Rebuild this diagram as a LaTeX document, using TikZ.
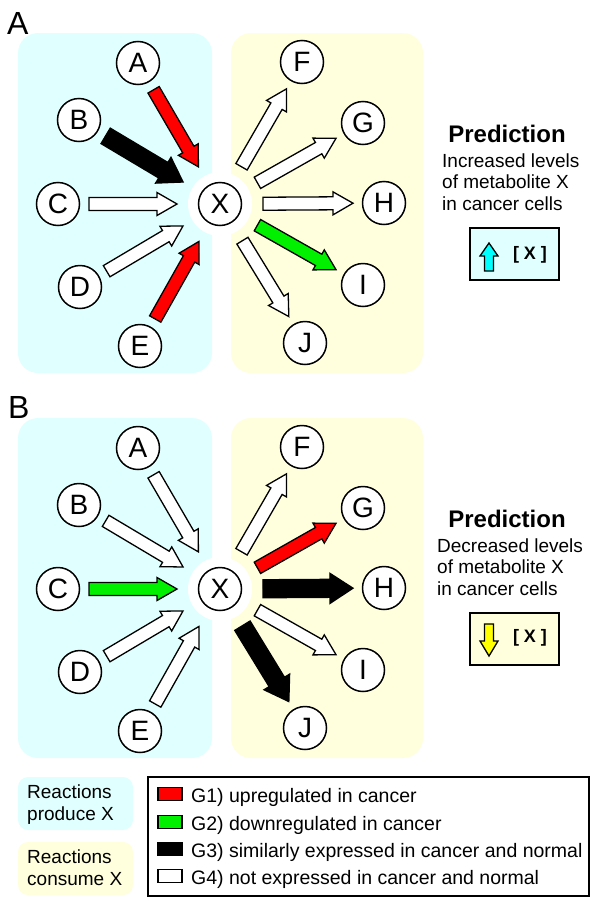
\documentclass[tikz,border=0pt]{standalone}
\usepackage{fontspec}
\setmainfont{Liberation Sans}
\usetikzlibrary{calc}
\definecolor{lcyan}{RGB}{224,255,255}
\definecolor{lyel}{RGB}{255,255,221}
\definecolor{ared}{RGB}{255,0,0}
\definecolor{agreen}{RGB}{0,240,0}
\definecolor{ucyan}{RGB}{0,255,255}
\definecolor{uyel}{RGB}{255,255,0}
% #1 fill, #2 src, #3 dst, #4 start dist, #5 end dist, #6 half shaft, #7 half head, #8 head length
\newcommand\fatarr[8]{%
  \coordinate (fs) at ($(#2)!#4!(#3)$);
  \coordinate (ft) at ($(#3)!#5!(#2)$);
  \coordinate (fh) at ($(ft)!#8!(fs)$);
  \draw[fatline, fill=#1] ($(fs)!#6!90:(ft)$) -- ($(fh)!#6!-90:(fs)$) -- ($(fh)!#7!-90:(fs)$) -- (ft)
     -- ($(fh)!#7!90:(fs)$) -- ($(fh)!#6!90:(fs)$) -- ($(fs)!#6!-90:(ft)$) -- cycle;
}
\newcommand\inarr[3]{\fatarr{#1}{#2}{#3}{31pt}{43pt}{6.5pt}{11.5pt}{20pt}}
\newcommand\outarr[3]{\fatarr{#1}{#2}{#3}{43pt}{31pt}{6.5pt}{11.5pt}{20pt}}
\newcommand\inarrthick[3]{\fatarr{#1}{#2}{#3}{31pt}{43pt}{9pt}{15pt}{23pt}}
\newcommand\outarrthick[3]{\fatarr{#1}{#2}{#3}{43pt}{31pt}{9pt}{15pt}{23pt}}
\begin{document}
\begin{tikzpicture}[x=1pt,y=-1pt,
  circ/.style={circle, draw, line width=1.5pt, fill=white, minimum size=43pt, inner sep=0pt, font=\fontsize{28}{28}\selectfont},
  halo/.style={circle, fill=white, minimum size=64pt, inner sep=0pt},
  fatline/.style={draw, line width=1.3pt, line join=miter},
  prodbox/.style={fill=lcyan, rounded corners=20pt},
  consbox/.style={fill=lyel, rounded corners=20pt},
  panellab/.style={anchor=base west, inner sep=0pt, font=\fontsize{32}{32}\selectfont},
  predtitle/.style={anchor=base, inner sep=0pt, font=\fontsize{24}{24}\selectfont\bfseries},
  bodytxt/.style={anchor=base west, inner sep=0pt, font=\fontsize{19}{19}\selectfont},
  legtxt/.style={anchor=base west, inner sep=0pt, font=\fontsize{19.5}{19.5}\selectfont},
  conc/.style={inner sep=0pt, font=\fontsize{18}{18}\selectfont\bfseries},
  indbox/.style={draw, line width=1.4pt},
  swatch/.style={draw, line width=1.2pt}
]
\useasboundingbox (0,0) rectangle (600,913);

% panel boxes
\fill[prodbox] (18,33) rectangle (212,373);
\fill[consbox] (231,33) rectangle (423,373);
\fill[prodbox] (18,418) rectangle (212,758);
\fill[consbox] (231,418) rectangle (423,758);

\node[panellab] (labA) at (7,34) {A};
\node[panellab] (labB) at (8,418) {B};

% halos and X nodes
\node[halo] (hX1) at (220,204) {};
\node[halo] (hX2) at (220,589) {};
\node[circ] (X1) at (220,204) {X};
\node[circ] (X2) at (220,589) {X};

\foreach \nm/\px/\py in {A/138/63, B/79/120, C/58/204, D/80/287, E/140/346,
                         F/302/62, G/363/123, H/384/203, I/363/285, J/305/343} {
  \node[circ] (\nm1) at (\px,\py) {\nm};
  \node[circ] (\nm2) at (\px,\py+385) {\nm};
}

% panel A arrows
\inarr{ared}{A1}{X1}
\inarrthick{black}{B1}{X1}
\inarr{white}{C1}{X1}
\inarr{white}{D1}{X1}
\inarr{ared}{E1}{X1}
\outarr{white}{X1}{F1}
\outarr{white}{X1}{G1}
\outarr{white}{X1}{H1}
\outarr{agreen}{X1}{I1}
\outarr{white}{X1}{J1}

% panel B arrows
\inarr{white}{A2}{X2}
\inarr{white}{B2}{X2}
\inarr{agreen}{C2}{X2}
\inarr{white}{D2}{X2}
\inarr{white}{E2}{X2}
\outarr{white}{X2}{F2}
\outarr{ared}{X2}{G2}
\outarrthick{black}{X2}{H2}
\outarr{white}{X2}{I2}
\outarrthick{black}{X2}{J2}

% predictions
\node[predtitle] (predA) at (507,142) {Prediction};
\node[bodytxt] (pa1) at (442,167) {Increased levels};
\node[bodytxt] (pa2) at (442,188) {of metabolite X};
\node[bodytxt] (pa3) at (442,210) {in cancer cells};
\draw[indbox, fill=lcyan] (470,228) rectangle (559,280);
\draw[fatline, fill=ucyan] (489,243) -- (498,256) -- (493.5,256) -- (493.5,271) -- (484.5,271) -- (484.5,256) -- (480,256) -- cycle;
\node[conc] (cA) at (530,255) {[ X ]};

\node[predtitle] (predB) at (507,527) {Prediction};
\node[bodytxt] (pb1) at (437,552) {Decreased levels};
\node[bodytxt] (pb2) at (437,573) {of metabolite X};
\node[bodytxt] (pb3) at (437,595) {in cancer cells};
\draw[indbox, fill=lyel] (470,613) rectangle (559,665);
\draw[fatline, fill=uyel] (489,656) -- (498,641) -- (493.5,641) -- (493.5,624) -- (484.5,624) -- (484.5,641) -- (480,641) -- cycle;
\node[conc] (cB) at (530,638) {[ X ]};

% legend
\fill[fill=lcyan, rounded corners=10pt] (18,777) rectangle (133,830);
\fill[fill=lyel, rounded corners=10pt] (18,842) rectangle (133,895);
\node[bodytxt] (r1) at (27,798) {Reactions};
\node[bodytxt] (r2) at (27,820) {produce X};
\node[bodytxt] (r3) at (27,863) {Reactions};
\node[bodytxt] (r4) at (27,885) {consume X};

\draw[line width=1.5pt] (148,777) rectangle (589,896);
\foreach \c/\col/\txt [count=\k] in {794/ared/{G1) upregulated in cancer},
                          822/agreen/{G2) downregulated in cancer},
                          849/black/{G3) similarly expressed in cancer and normal},
                          876/white/{G4) not expressed in cancer and normal}} {
  \draw[swatch, fill=\col] (158,\c-6.5) rectangle (182,\c+6.5);
  \node[legtxt] (leg\k) at (191,\c+8) {\txt};
}
\end{tikzpicture}
\end{document}
